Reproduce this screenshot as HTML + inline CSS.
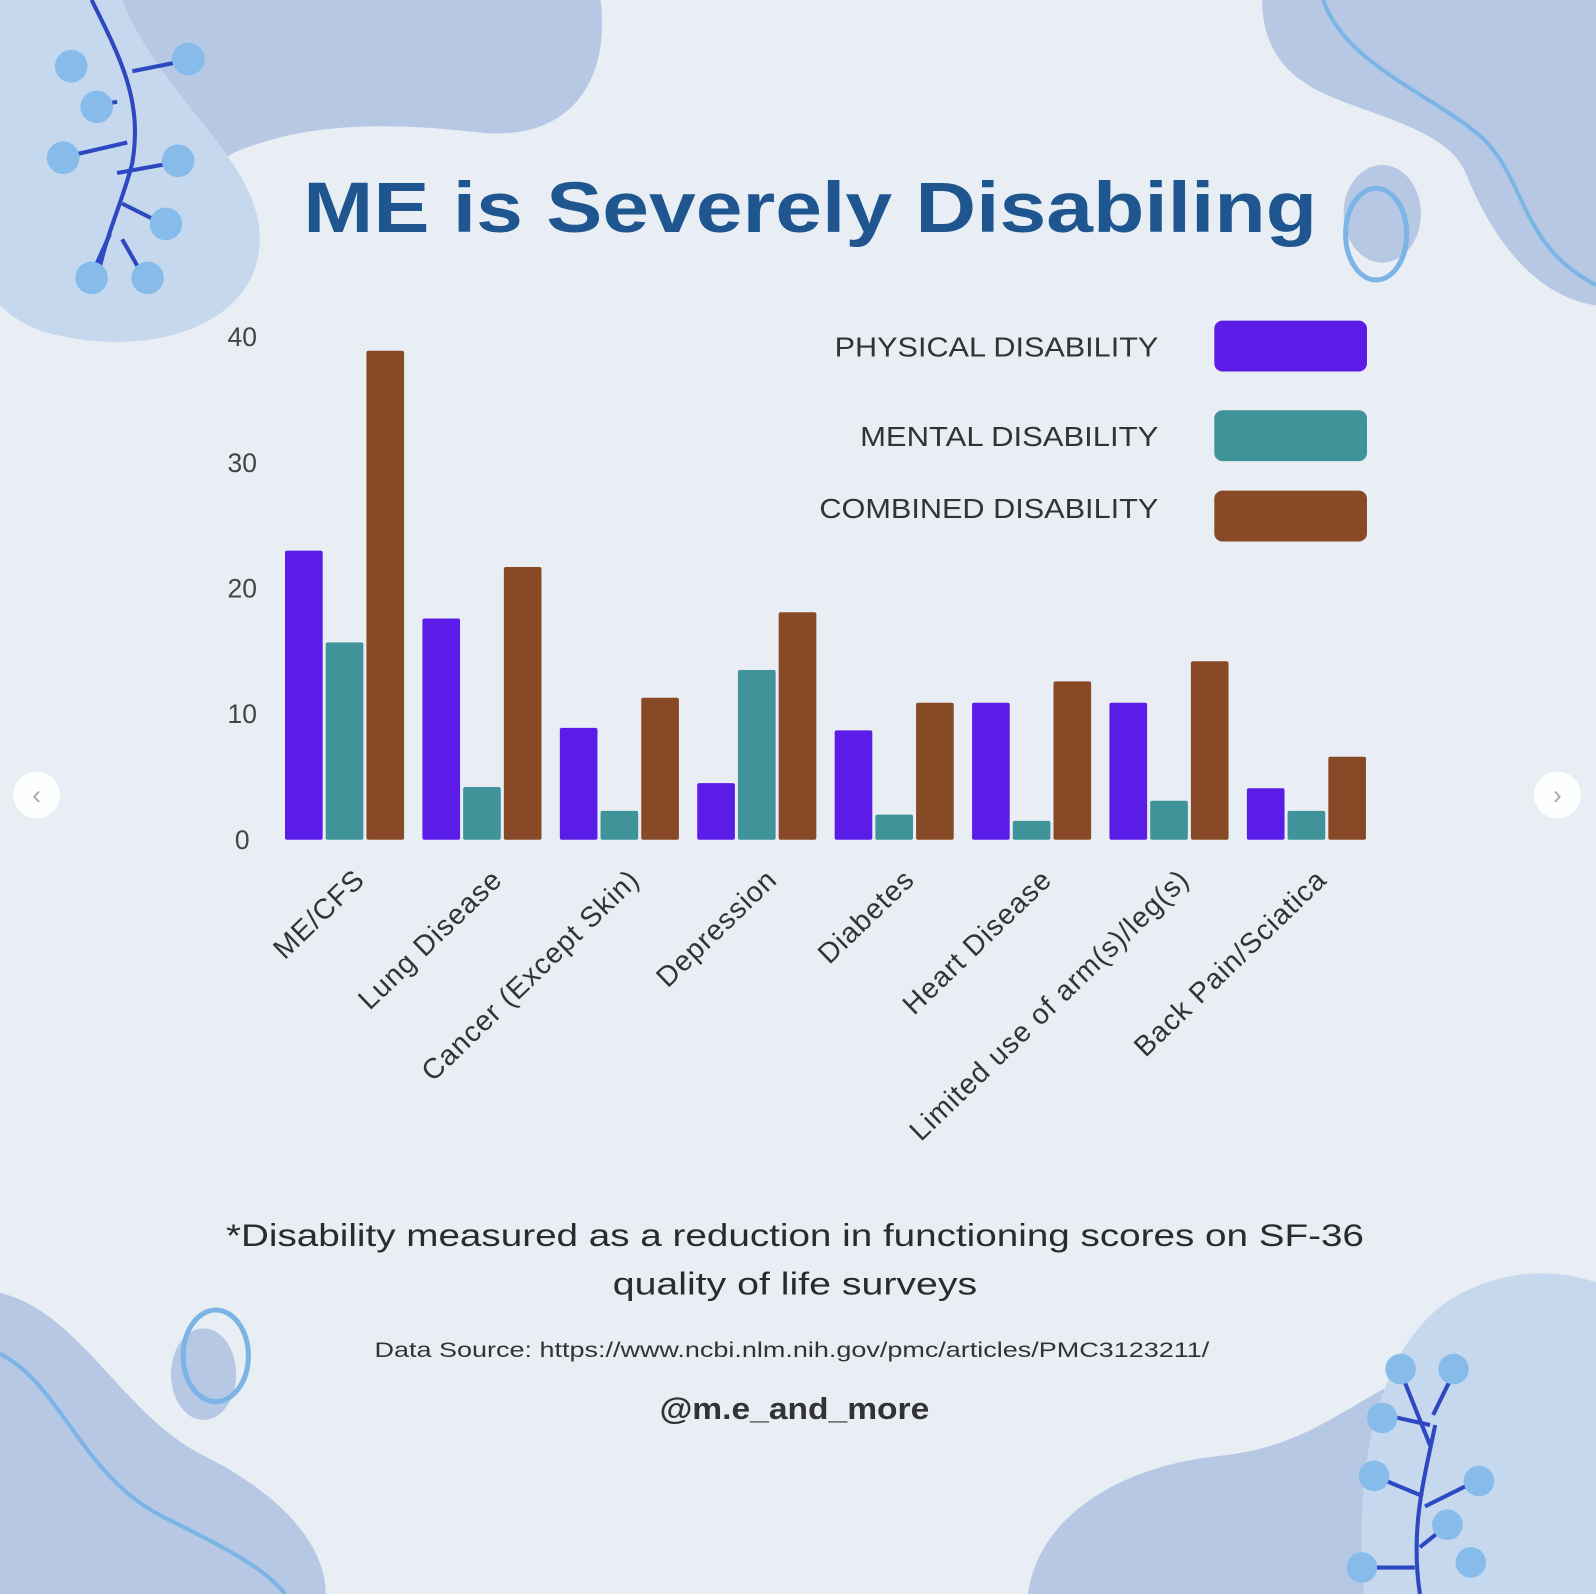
<!DOCTYPE html>
<html><head><meta charset="utf-8"><style>
html,body{margin:0;padding:0;background:#e9eef5;}
svg{display:block;}
text{font-family:"Liberation Sans",sans-serif;}
</style></head><body>
<svg id="c" width="1596" height="1594" viewBox="0 0 1568 1566" preserveAspectRatio="none">
<rect x="0" y="0" width="1568" height="1566" fill="#e9eef5"/>
<g>
<path d="M0,0 L590,0 C600,80 560,140 470,130 C380,120 300,120 230,150 C200,170 150,160 110,120 L0,60 Z" fill="#b6c8e4"/>
<path d="M0,0 L120,0 C160,100 260,160 255,240 C250,320 150,350 60,330 C30,325 10,310 0,300 Z" fill="#c5d8ee"/>
<path d="M1240,0 L1568,0 L1568,300 C1500,290 1460,220 1440,170 C1420,120 1320,110 1280,80 C1250,60 1240,30 1240,0 Z" fill="#b6c8e4"/>
<path d="M1300,0 C1320,60 1400,90 1450,130 C1500,170 1490,240 1568,280" fill="none" stroke="#7db4e6" stroke-width="4"/>
<path d="M0,1270 C80,1290 120,1390 200,1430 C280,1470 320,1520 320,1566 L0,1566 Z" fill="#b6c8e4"/>
<path d="M0,1330 C60,1360 80,1450 160,1490 C220,1520 260,1540 280,1566" fill="none" stroke="#7db4e6" stroke-width="4"/>
<path d="M1010,1566 C1020,1490 1100,1440 1200,1430 C1300,1420 1340,1360 1420,1340 C1500,1320 1540,1360 1568,1380 L1568,1566 Z" fill="#b6c8e4"/>
<path d="M1340,1566 C1330,1450 1350,1330 1420,1280 C1480,1240 1540,1250 1568,1260 L1568,1566 Z" fill="#c5d8ee"/>
<ellipse cx="1358" cy="210" rx="38" ry="48" fill="#b6c8e4"/>
<ellipse cx="1352" cy="230" rx="30" ry="45" fill="none" stroke="#7db4e6" stroke-width="5"/>
<ellipse cx="200" cy="1350" rx="32" ry="45" fill="#b6c8e4"/>
<ellipse cx="212" cy="1332" rx="32" ry="45" fill="none" stroke="#7db4e6" stroke-width="5"/>
<path d="M90,0 C120,60 140,100 130,160 C120,200 100,240 95,280 M130,70 L180,60 M115,100 L90,105 M125,140 L60,155 M115,170 L170,160 M120,200 L160,220 M108,230 L90,270 M120,235 L140,270" fill="none" stroke="#2d48c0" stroke-width="4"/>
<g fill="#86bbea"><circle cx="70" cy="65" r="16"/><circle cx="185" cy="58" r="16"/><circle cx="95" cy="105" r="16"/><circle cx="62" cy="155" r="16"/><circle cx="175" cy="158" r="16"/><circle cx="163" cy="220" r="16"/><circle cx="90" cy="273" r="16"/><circle cx="145" cy="273" r="16"/></g>
<path d="M1395,1566 C1385,1500 1400,1450 1410,1400 M1405,1420 L1375,1345 M1408,1390 L1430,1345 M1405,1400 L1360,1390 M1398,1470 L1350,1450 M1400,1480 L1450,1455 M1395,1520 L1420,1500 M1390,1540 L1340,1540" fill="none" stroke="#2d48c0" stroke-width="4"/>
<g fill="#86bbea"><circle cx="1376" cy="1345" r="15"/><circle cx="1428" cy="1345" r="15"/><circle cx="1358" cy="1393" r="15"/><circle cx="1350" cy="1450" r="15"/><circle cx="1453" cy="1455" r="15"/><circle cx="1422" cy="1498" r="15"/><circle cx="1338" cy="1540" r="15"/><circle cx="1445" cy="1535" r="15"/></g>
<circle cx="36" cy="781" r="23" fill="#ffffff" opacity="0.9"/>
<text x="36" y="790" font-size="26" fill="#aaa" text-anchor="middle">‹</text>
<circle cx="1530" cy="781" r="23" fill="#ffffff" opacity="0.9"/>
<text x="1530" y="790" font-size="26" fill="#aaa" text-anchor="middle">›</text>
</g>
<text x="298" y="228" font-size="70" font-weight="bold" fill="#1f568f" textLength="996" lengthAdjust="spacingAndGlyphs">ME is Severely Disabiling</text>
<g id="legend">
<text x="820" y="350" font-size="27" fill="#333" textLength="318" lengthAdjust="spacingAndGlyphs">PHYSICAL DISABILITY</text>
<rect x="1193" y="315" width="150" height="50" rx="8" fill="#5a1ce6"/>
<text x="845" y="438" font-size="27" fill="#333" textLength="293" lengthAdjust="spacingAndGlyphs">MENTAL DISABILITY</text>
<rect x="1193" y="403" width="150" height="50" rx="8" fill="#3f9399"/>
<text x="805" y="509" font-size="27" fill="#333" textLength="333" lengthAdjust="spacingAndGlyphs">COMBINED DISABILITY</text>
<rect x="1193" y="482" width="150" height="50" rx="8" fill="#884a26"/>
</g>
<g id="yaxis"></g>
<g id="bars"></g>
<g id="xaxis"></g>
<text x="222" y="1224" font-size="31" fill="#2b2b2b" textLength="1118" lengthAdjust="spacingAndGlyphs">*Disability measured as a reduction in functioning scores on SF-36</text>
<text x="602" y="1272" font-size="31" fill="#2b2b2b" textLength="358" lengthAdjust="spacingAndGlyphs">quality of life surveys</text>
<text x="368" y="1333" font-size="21" fill="#333" textLength="820" lengthAdjust="spacingAndGlyphs">Data Source: https://www.ncbi.nlm.nih.gov/pmc/articles/PMC3123211/</text>
<text x="648" y="1394" font-size="30" font-weight="bold" fill="#333" textLength="265" lengthAdjust="spacingAndGlyphs">@m.e_and_more</text>
</svg>
<script>
const categories = ["ME/CFS","Lung Disease","Cancer (Except Skin)","Depression","Diabetes","Heart Disease","Limited use of arm(s)/leg(s)","Back Pain/Sciatica"];
const physical = [23.0,17.6,8.9,4.5,8.7,10.9,10.9,4.1];
const mental = [15.7,4.2,2.3,13.5,2.0,1.5,3.1,2.3];
const combined = [38.9,21.7,11.3,18.1,10.9,12.6,14.2,6.6];
const yTicks = [0,10,20,30,40];
const NS="http://www.w3.org/2000/svg";
const y0=825, y40=331;
function yScale(v){return y0-(y0-y40)*v/40;}
function xGroup(i){return 280+135*i;}
const bw=37, gap=3;
const yaxis=document.getElementById('yaxis');
yTicks.forEach(t=>{
  const tx=document.createElementNS(NS,'text');
  tx.setAttribute('x',238);tx.setAttribute('y',yScale(t)+9);
  tx.setAttribute('font-size','26');tx.setAttribute('fill','#444');tx.setAttribute('text-anchor','middle');
  tx.textContent=t;
  
  
  yaxis.appendChild(tx);
});
const bars=document.getElementById('bars');
const series=[[physical,'#5a1ce6','physical'],[mental,'#3f9399','mental'],[combined,'#884a26','combined']];
categories.forEach((c,i)=>{
  series.forEach((s,j)=>{
    const v=s[0][i];
    const r=document.createElementNS(NS,'rect');
    r.setAttribute('x',xGroup(i)+j*(bw+gap));
    r.setAttribute('y',yScale(v));
    r.setAttribute('width',bw);
    r.setAttribute('height',y0-yScale(v));
    r.setAttribute('rx',2);
    r.setAttribute('fill',s[1]);
    
    
    bars.appendChild(r);
  });
  const tx=document.createElementNS(NS,'text');
  const cx=xGroup(i)+80, cy=866;
  tx.setAttribute('x',cx);tx.setAttribute('y',cy);
  tx.setAttribute('transform','rotate(-44 '+cx+' '+cy+')');
  tx.setAttribute('font-size','28');tx.setAttribute('fill','#333');tx.setAttribute('text-anchor','end');
  tx.setAttribute('letter-spacing','1');
  tx.textContent=c;
  
  
  document.getElementById('xaxis').appendChild(tx);
});
</script>
</body></html>
